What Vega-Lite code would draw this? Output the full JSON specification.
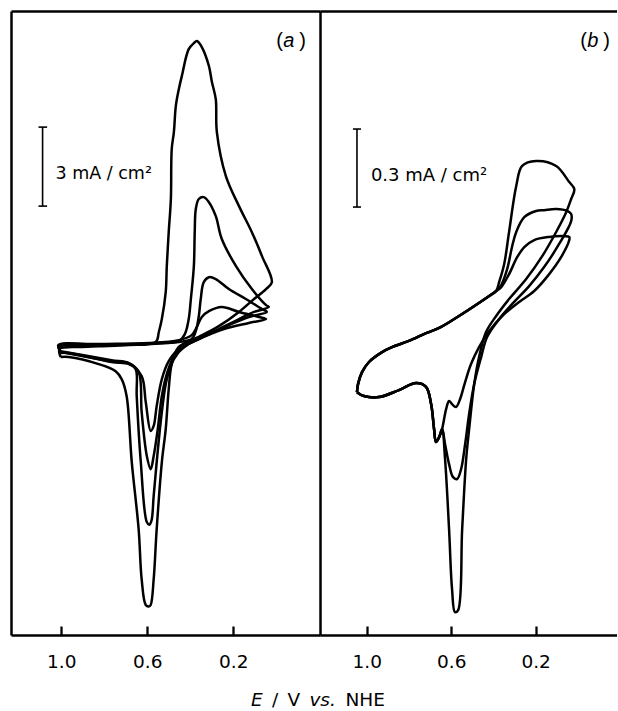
{
  "$schema": "https://vega.github.io/schema/vega-lite/v6.json",
  "padding": {"left": 11, "top": 11, "right": 0, "bottom": 0},
  "bounds": "flush",
  "spacing": 0,
  "config": {
    "view": {"stroke": null},
    "font": "DejaVu Sans",
    "axis": {"domainColor": "black", "tickColor": "black", "labelColor": "black", "grid": false, "title": null}
  },
  "datasets": {
    "one": [{}],
    "a": [
      {"c":1,"k":1,"E":1.003,"j":-0.49},{"c":1,"k":2,"E":0.966,"j":-0.49},{"c":1,"k":3,"E":0.826,"j":-0.76},{"c":1,"k":4,"E":0.747,"j":-1.03},{"c":1,"k":5,"E":0.719,"j":-1.33},{"c":1,"k":6,"E":0.696,"j":-1.97},{"c":1,"k":7,"E":0.672,"j":-4.48},{"c":1,"k":8,"E":0.640,"j":-7.03},{"c":1,"k":9,"E":0.626,"j":-8.93},{"c":1,"k":10,"E":0.607,"j":-9.91},{"c":1,"k":11,"E":0.593,"j":-9.97},{"c":1,"k":12,"E":0.584,"j":-9.91},{"c":1,"k":13,"E":0.570,"j":-8.93},{"c":1,"k":14,"E":0.556,"j":-7.03},{"c":1,"k":15,"E":0.532,"j":-4.48},{"c":1,"k":16,"E":0.514,"j":-3.23},{"c":1,"k":17,"E":0.500,"j":-1.71},{"c":1,"k":18,"E":0.486,"j":-0.76},{"c":1,"k":19,"E":0.453,"j":-0.11},{"c":1,"k":20,"E":0.360,"j":0.27},{"c":1,"k":21,"E":0.267,"j":0.68},{"c":1,"k":22,"E":0.173,"j":1.22},{"c":1,"k":23,"E":0.103,"j":1.71},{"c":1,"k":24,"E":0.047,"j":2.09},{"c":1,"k":25,"E":0.020,"j":2.35},
      {"c":1,"k":26,"E":0.066,"j":3.34},{"c":1,"k":27,"E":0.113,"j":4.25},{"c":1,"k":28,"E":0.173,"j":5.24},{"c":1,"k":29,"E":0.234,"j":6.38},{"c":1,"k":30,"E":0.276,"j":8.05},{"c":1,"k":31,"E":0.281,"j":9.30},{"c":1,"k":32,"E":0.299,"j":9.95},{"c":1,"k":33,"E":0.313,"j":10.56},{"c":1,"k":34,"E":0.346,"j":11.28},{"c":1,"k":35,"E":0.369,"j":11.51},{"c":1,"k":36,"E":0.383,"j":11.43},{"c":1,"k":37,"E":0.407,"j":11.20},{"c":1,"k":38,"E":0.439,"j":10.18},{"c":1,"k":39,"E":0.453,"j":9.68},{"c":1,"k":40,"E":0.467,"j":9.04},{"c":1,"k":41,"E":0.476,"j":8.05},{"c":1,"k":42,"E":0.486,"j":7.41},{"c":1,"k":43,"E":0.490,"j":5.51},{"c":1,"k":44,"E":0.500,"j":4.25},{"c":1,"k":45,"E":0.509,"j":2.96},{"c":1,"k":46,"E":0.514,"j":1.97},{"c":1,"k":47,"E":0.532,"j":0.95},{"c":1,"k":48,"E":0.546,"j":0.46},{"c":1,"k":49,"E":0.560,"j":0.08},{"c":1,"k":50,"E":0.686,"j":-0.04},{"c":1,"k":51,"E":0.826,"j":-0.08},{"c":1,"k":52,"E":0.919,"j":-0.11},{"c":1,"k":53,"E":1.008,"j":-0.19},{"c":1,"k":54,"E":1.003,"j":-0.49},

      {"c":2,"k":1,"E":1.003,"j":-0.34},{"c":2,"k":2,"E":0.966,"j":-0.34},{"c":2,"k":3,"E":0.766,"j":-0.68},{"c":2,"k":4,"E":0.686,"j":-0.76},{"c":2,"k":5,"E":0.654,"j":-0.95},{"c":2,"k":6,"E":0.649,"j":-1.97},{"c":2,"k":7,"E":0.630,"j":-4.48},{"c":2,"k":8,"E":0.602,"j":-6.76},{"c":2,"k":9,"E":0.590,"j":-6.86},{"c":2,"k":10,"E":0.580,"j":-6.70},{"c":2,"k":11,"E":0.570,"j":-5.77},{"c":2,"k":12,"E":0.556,"j":-4.48},{"c":2,"k":13,"E":0.532,"j":-2.58},{"c":2,"k":14,"E":0.509,"j":-1.33},{"c":2,"k":15,"E":0.476,"j":-0.57},{"c":2,"k":16,"E":0.430,"j":-0.11},{"c":2,"k":17,"E":0.360,"j":0.19},{"c":2,"k":18,"E":0.267,"j":0.57},{"c":2,"k":19,"E":0.173,"j":0.95},{"c":2,"k":20,"E":0.103,"j":1.22},{"c":2,"k":21,"E":0.034,"j":1.41},
      {"c":2,"k":22,"E":0.047,"j":1.48},{"c":2,"k":23,"E":0.113,"j":2.09},{"c":2,"k":24,"E":0.187,"j":2.96},{"c":2,"k":25,"E":0.253,"j":3.99},{"c":2,"k":26,"E":0.281,"j":4.86},{"c":2,"k":27,"E":0.313,"j":5.39},{"c":2,"k":28,"E":0.337,"j":5.58},{"c":2,"k":29,"E":0.360,"j":5.51},{"c":2,"k":30,"E":0.374,"j":5.13},{"c":2,"k":31,"E":0.379,"j":4.25},{"c":2,"k":32,"E":0.383,"j":2.96},{"c":2,"k":33,"E":0.397,"j":1.71},{"c":2,"k":34,"E":0.407,"j":0.95},{"c":2,"k":35,"E":0.425,"j":0.38},{"c":2,"k":36,"E":0.453,"j":0.11},{"c":2,"k":37,"E":0.546,"j":0.04},{"c":2,"k":38,"E":0.686,"j":0.0},{"c":2,"k":39,"E":0.826,"j":-0.04},{"c":2,"k":40,"E":1.010,"j":-0.11},{"c":2,"k":41,"E":1.003,"j":-0.34},

      {"c":3,"k":1,"E":1.003,"j":-0.30},{"c":3,"k":2,"E":0.766,"j":-0.65},{"c":3,"k":3,"E":0.686,"j":-0.72},{"c":3,"k":4,"E":0.640,"j":-1.06},{"c":3,"k":5,"E":0.626,"j":-2.58},{"c":3,"k":6,"E":0.602,"j":-4.25},{"c":3,"k":7,"E":0.584,"j":-4.75},{"c":3,"k":8,"E":0.570,"j":-4.25},{"c":3,"k":9,"E":0.551,"j":-3.23},{"c":3,"k":10,"E":0.532,"j":-1.97},{"c":3,"k":11,"E":0.509,"j":-1.14},{"c":3,"k":12,"E":0.476,"j":-0.49},{"c":3,"k":13,"E":0.407,"j":0.0},{"c":3,"k":14,"E":0.313,"j":0.38},{"c":3,"k":15,"E":0.220,"j":0.72},{"c":3,"k":16,"E":0.127,"j":1.03},{"c":3,"k":17,"E":0.043,"j":1.22},
      {"c":3,"k":18,"E":0.066,"j":1.33},{"c":3,"k":19,"E":0.141,"j":1.71},{"c":3,"k":20,"E":0.220,"j":2.09},{"c":3,"k":21,"E":0.281,"j":2.47},{"c":3,"k":22,"E":0.313,"j":2.54},{"c":3,"k":23,"E":0.337,"j":2.35},{"c":3,"k":24,"E":0.351,"j":1.71},{"c":3,"k":25,"E":0.360,"j":1.06},{"c":3,"k":26,"E":0.374,"j":0.49},{"c":3,"k":27,"E":0.393,"j":0.19},{"c":3,"k":28,"E":0.453,"j":0.08},{"c":3,"k":29,"E":0.593,"j":0.0},{"c":3,"k":30,"E":0.826,"j":-0.04},{"c":3,"k":31,"E":1.012,"j":-0.08},{"c":3,"k":32,"E":1.003,"j":-0.30},

      {"c":4,"k":1,"E":1.003,"j":-0.27},{"c":4,"k":2,"E":0.766,"j":-0.61},{"c":4,"k":3,"E":0.686,"j":-0.72},{"c":4,"k":4,"E":0.626,"j":-1.22},{"c":4,"k":5,"E":0.607,"j":-2.20},{"c":4,"k":6,"E":0.584,"j":-3.30},{"c":4,"k":7,"E":0.570,"j":-3.11},{"c":4,"k":8,"E":0.556,"j":-2.35},{"c":4,"k":9,"E":0.532,"j":-1.33},{"c":4,"k":10,"E":0.500,"j":-0.65},{"c":4,"k":11,"E":0.453,"j":-0.19},{"c":4,"k":12,"E":0.360,"j":0.19},{"c":4,"k":13,"E":0.243,"j":0.57},{"c":4,"k":14,"E":0.127,"j":0.80},{"c":4,"k":15,"E":0.047,"j":0.95},
      {"c":4,"k":16,"E":0.080,"j":1.03},{"c":4,"k":17,"E":0.173,"j":1.22},{"c":4,"k":18,"E":0.253,"j":1.41},{"c":4,"k":19,"E":0.313,"j":1.25},{"c":4,"k":20,"E":0.346,"j":1.03},{"c":4,"k":21,"E":0.369,"j":0.65},{"c":4,"k":22,"E":0.393,"j":0.34},{"c":4,"k":23,"E":0.453,"j":0.15},{"c":4,"k":24,"E":0.593,"j":0.04},{"c":4,"k":25,"E":0.826,"j":0.0},{"c":4,"k":26,"E":1.014,"j":-0.04},{"c":4,"k":27,"E":1.003,"j":-0.27}
    ],
    "b": [
      {"c":1,"k":1,"E":1.046,"j":-0.185},{"c":1,"k":2,"E":1.013,"j":-0.200},{"c":1,"k":3,"E":0.942,"j":-0.204},{"c":1,"k":4,"E":0.847,"j":-0.177},{"c":1,"k":5,"E":0.766,"j":-0.150},{"c":1,"k":6,"E":0.719,"j":-0.165},{"c":1,"k":7,"E":0.695,"j":-0.231},{"c":1,"k":8,"E":0.681,"j":-0.327},{"c":1,"k":9,"E":0.672,"j":-0.377},{"c":1,"k":10,"E":0.657,"j":-0.358},{"c":1,"k":11,"E":0.643,"j":-0.327},
      {"c":1,"k":12,"E":0.629,"j":-0.442},{"c":1,"k":13,"E":0.610,"j":-0.712},{"c":1,"k":14,"E":0.596,"j":-0.942},{"c":1,"k":15,"E":0.582,"j":-1.031},{"c":1,"k":16,"E":0.567,"j":-1.023},{"c":1,"k":17,"E":0.548,"j":-0.712},{"c":1,"k":18,"E":0.529,"j":-0.442},{"c":1,"k":19,"E":0.515,"j":-0.327},{"c":1,"k":20,"E":0.491,"j":-0.154},{"c":1,"k":21,"E":0.468,"j":-0.050},{"c":1,"k":22,"E":0.435,"j":0.046},{"c":1,"k":23,"E":0.387,"j":0.108},{"c":1,"k":24,"E":0.326,"j":0.173},{"c":1,"k":25,"E":0.245,"j":0.250},{"c":1,"k":26,"E":0.169,"j":0.338},{"c":1,"k":27,"E":0.103,"j":0.431},{"c":1,"k":28,"E":0.055,"j":0.508},{"c":1,"k":29,"E":0.032,"j":0.558},{"c":1,"k":30,"E":0.017,"j":0.596},
      {"c":1,"k":31,"E":0.041,"j":0.623},{"c":1,"k":32,"E":0.103,"j":0.685},{"c":1,"k":33,"E":0.198,"j":0.704},{"c":1,"k":34,"E":0.264,"j":0.685},{"c":1,"k":35,"E":0.292,"j":0.608},{"c":1,"k":36,"E":0.326,"j":0.431},{"c":1,"k":37,"E":0.349,"j":0.308},{"c":1,"k":38,"E":0.373,"j":0.238},
      {"c":1,"k":39,"E":0.387,"j":0.204},{"c":1,"k":40,"E":0.420,"j":0.185},{"c":1,"k":41,"E":0.563,"j":0.108},{"c":1,"k":42,"E":0.657,"j":0.062},{"c":1,"k":43,"E":0.719,"j":0.042},{"c":1,"k":44,"E":0.800,"j":0.012},{"c":1,"k":45,"E":0.880,"j":-0.012},{"c":1,"k":46,"E":0.927,"j":-0.031},{"c":1,"k":47,"E":0.989,"j":-0.069},{"c":1,"k":48,"E":1.022,"j":-0.108},{"c":1,"k":49,"E":1.041,"j":-0.154},{"c":1,"k":50,"E":1.046,"j":-0.185},

      {"c":2,"k":1,"E":1.046,"j":-0.185},{"c":2,"k":2,"E":1.013,"j":-0.200},{"c":2,"k":3,"E":0.942,"j":-0.204},{"c":2,"k":4,"E":0.847,"j":-0.177},{"c":2,"k":5,"E":0.766,"j":-0.150},{"c":2,"k":6,"E":0.719,"j":-0.165},{"c":2,"k":7,"E":0.695,"j":-0.231},{"c":2,"k":8,"E":0.681,"j":-0.327},{"c":2,"k":9,"E":0.672,"j":-0.377},{"c":2,"k":10,"E":0.657,"j":-0.358},{"c":2,"k":11,"E":0.643,"j":-0.327},
      {"c":2,"k":12,"E":0.629,"j":-0.385},{"c":2,"k":13,"E":0.610,"j":-0.462},{"c":2,"k":14,"E":0.591,"j":-0.512},{"c":2,"k":15,"E":0.572,"j":-0.519},{"c":2,"k":16,"E":0.553,"j":-0.481},{"c":2,"k":17,"E":0.534,"j":-0.385},{"c":2,"k":18,"E":0.515,"j":-0.269},{"c":2,"k":19,"E":0.491,"j":-0.154},{"c":2,"k":20,"E":0.458,"j":-0.050},{"c":2,"k":21,"E":0.430,"j":0.027},{"c":2,"k":22,"E":0.373,"j":0.096},{"c":2,"k":23,"E":0.302,"j":0.162},{"c":2,"k":24,"E":0.231,"j":0.223},{"c":2,"k":25,"E":0.160,"j":0.296},{"c":2,"k":26,"E":0.089,"j":0.385},{"c":2,"k":27,"E":0.032,"j":0.473},
      {"c":2,"k":28,"E":0.032,"j":0.500},{"c":2,"k":29,"E":0.051,"j":0.512},{"c":2,"k":30,"E":0.103,"j":0.519},{"c":2,"k":31,"E":0.160,"j":0.515},{"c":2,"k":32,"E":0.198,"j":0.512},{"c":2,"k":33,"E":0.254,"j":0.488},{"c":2,"k":34,"E":0.292,"j":0.431},{"c":2,"k":35,"E":0.311,"j":0.377},{"c":2,"k":36,"E":0.335,"j":0.288},{"c":2,"k":37,"E":0.363,"j":0.227},
      {"c":2,"k":38,"E":0.387,"j":0.204},{"c":2,"k":39,"E":0.420,"j":0.185},{"c":2,"k":40,"E":0.563,"j":0.108},{"c":2,"k":41,"E":0.657,"j":0.062},{"c":2,"k":42,"E":0.719,"j":0.042},{"c":2,"k":43,"E":0.800,"j":0.012},{"c":2,"k":44,"E":0.880,"j":-0.012},{"c":2,"k":45,"E":0.927,"j":-0.031},{"c":2,"k":46,"E":0.989,"j":-0.069},{"c":2,"k":47,"E":1.022,"j":-0.108},{"c":2,"k":48,"E":1.041,"j":-0.154},{"c":2,"k":49,"E":1.046,"j":-0.185},

      {"c":3,"k":1,"E":1.046,"j":-0.185},{"c":3,"k":2,"E":1.013,"j":-0.200},{"c":3,"k":3,"E":0.942,"j":-0.204},{"c":3,"k":4,"E":0.847,"j":-0.177},{"c":3,"k":5,"E":0.766,"j":-0.150},{"c":3,"k":6,"E":0.719,"j":-0.165},{"c":3,"k":7,"E":0.695,"j":-0.231},{"c":3,"k":8,"E":0.681,"j":-0.327},{"c":3,"k":9,"E":0.672,"j":-0.377},{"c":3,"k":10,"E":0.657,"j":-0.358},{"c":3,"k":11,"E":0.643,"j":-0.327},
      {"c":3,"k":12,"E":0.624,"j":-0.250},{"c":3,"k":13,"E":0.610,"j":-0.219},{"c":3,"k":14,"E":0.596,"j":-0.231},{"c":3,"k":15,"E":0.577,"j":-0.242},{"c":3,"k":16,"E":0.558,"j":-0.212},{"c":3,"k":17,"E":0.534,"j":-0.146},{"c":3,"k":18,"E":0.506,"j":-0.077},{"c":3,"k":19,"E":0.468,"j":-0.012},{"c":3,"k":20,"E":0.420,"j":0.050},{"c":3,"k":21,"E":0.349,"j":0.115},{"c":3,"k":22,"E":0.278,"j":0.162},{"c":3,"k":23,"E":0.207,"j":0.204},{"c":3,"k":24,"E":0.136,"j":0.269},{"c":3,"k":25,"E":0.079,"j":0.335},{"c":3,"k":26,"E":0.041,"j":0.400},
      {"c":3,"k":27,"E":0.041,"j":0.412},{"c":3,"k":28,"E":0.065,"j":0.415},{"c":3,"k":29,"E":0.136,"j":0.412},{"c":3,"k":30,"E":0.207,"j":0.400},{"c":3,"k":31,"E":0.254,"j":0.373},{"c":3,"k":32,"E":0.287,"j":0.335},{"c":3,"k":33,"E":0.326,"j":0.269},{"c":3,"k":34,"E":0.363,"j":0.219},
      {"c":3,"k":35,"E":0.387,"j":0.204},{"c":3,"k":36,"E":0.420,"j":0.185},{"c":3,"k":37,"E":0.563,"j":0.108},{"c":3,"k":38,"E":0.657,"j":0.062},{"c":3,"k":39,"E":0.719,"j":0.042},{"c":3,"k":40,"E":0.800,"j":0.012},{"c":3,"k":41,"E":0.880,"j":-0.012},{"c":3,"k":42,"E":0.927,"j":-0.031},{"c":3,"k":43,"E":0.989,"j":-0.069},{"c":3,"k":44,"E":1.022,"j":-0.108},{"c":3,"k":45,"E":1.041,"j":-0.154},{"c":3,"k":46,"E":1.046,"j":-0.185}
    ]
  },
  "hconcat": [
    {
      "width": 309, "height": 624,
      "resolve": {"axis": {"x": "independent", "y": "independent"}},
      "layer": [
        {
          "data": {"name": "a"},
          "mark": {"type": "line", "interpolate": "catmull-rom", "stroke": "black", "strokeWidth": 2.5, "strokeJoin": "round"},
          "encoding": {
            "x": {"field": "E", "type": "quantitative", "scale": {"domain": [-0.204, 1.234], "reverse": true, "nice": false, "zero": false},
                  "axis": {"orient": "bottom", "values": [1.0, 0.6, 0.2], "format": ".1f", "ticks": false, "domainWidth": 2.5, "labelFontSize": 18.5, "labelPadding": 17, "labelFont": "DejaVu Sans"}},
            "y": {"field": "j", "type": "quantitative", "scale": {"domain": [-11.05, 12.65], "nice": false, "zero": false},
                  "axis": {"orient": "left", "labels": false, "ticks": false, "domain": true, "domainWidth": 2.5}},
            "detail": {"field": "c"},
            "order": {"field": "k", "type": "quantitative"}
          }
        },
        {
          "data": {"name": "one"},
          "mark": {"type": "rule", "opacity": 0},
          "encoding": {"x": {"datum": 0.6, "type": "quantitative",
            "axis": {"orient": "top", "offset": -624, "values": [1.0, 0.6, 0.2], "labels": false, "domain": false, "ticks": true, "tickSize": 9, "tickWidth": 2.3, "tickColor": "black"}}}
        },
        {
          "data": {"name": "one"},
          "mark": {"type": "rule", "stroke": "black", "strokeWidth": 1.6},
          "encoding": {"x": {"datum": 1.087, "type": "quantitative", "axis": null}, "y": {"datum": 8.24, "type": "quantitative", "axis": null}, "y2": {"datum": 5.24}}
        },
        {
          "data": {"name": "one"},
          "mark": {"type": "rule", "stroke": "black", "strokeWidth": 1.6},
          "encoding": {"x": {"datum": 1.106, "type": "quantitative", "axis": null}, "x2": {"datum": 1.066}, "y": {"datum": 8.24, "type": "quantitative", "axis": null}}
        },
        {
          "data": {"name": "one"},
          "mark": {"type": "rule", "stroke": "black", "strokeWidth": 1.6},
          "encoding": {"x": {"datum": 1.106, "type": "quantitative", "axis": null}, "x2": {"datum": 1.066}, "y": {"datum": 5.24, "type": "quantitative", "axis": null}}
        },
        {
          "data": {"name": "one"},
          "mark": {"type": "text", "text": "3 mA / cm²", "align": "left", "baseline": "alphabetic", "fontSize": 17.5, "font": "DejaVu Sans", "color": "black"},
          "encoding": {"x": {"datum": 1.027, "type": "quantitative", "axis": null}, "y": {"datum": 6.27, "type": "quantitative", "axis": null}}
        },
        {
          "data": {"name": "one"},
          "mark": {"type": "text", "text": "(", "align": "left", "baseline": "middle", "fontSize": 20, "font": "Liberation Sans", "color": "black"},
          "encoding": {"x": {"datum": 0.0, "type": "quantitative", "axis": {"orient": "top", "labels": false, "ticks": false, "domainWidth": 2.5}}, "y": {"datum": 11.51, "type": "quantitative", "axis": null}}
        },
        {
          "data": {"name": "one"},
          "mark": {"type": "text", "text": "a", "align": "left", "baseline": "middle", "fontSize": 20, "fontStyle": "italic", "font": "Liberation Sans", "color": "black", "dx": 7},
          "encoding": {"x": {"datum": 0.0, "type": "quantitative", "axis": null}, "y": {"datum": 11.51, "type": "quantitative", "axis": null}}
        },
        {
          "data": {"name": "one"},
          "mark": {"type": "text", "text": ")", "align": "left", "baseline": "middle", "fontSize": 20, "font": "Liberation Sans", "color": "black", "dx": 23},
          "encoding": {"x": {"datum": 0.0, "type": "quantitative", "axis": null}, "y": {"datum": 11.51, "type": "quantitative", "axis": null}}
        },
        {
          "data": {"name": "one"},
          "mark": {"type": "text", "text": "E", "align": "left", "baseline": "alphabetic", "fontSize": 18.5, "fontStyle": "italic", "font": "DejaVu Sans", "color": "black"},
          "encoding": {"x": {"datum": 0.1175, "type": "quantitative", "axis": null}, "y": {"datum": -13.75, "type": "quantitative", "axis": null}}
        },
        {
          "data": {"name": "one"},
          "mark": {"type": "text", "text": "/", "align": "left", "baseline": "alphabetic", "fontSize": 18.5, "font": "DejaVu Sans", "color": "black", "dx": 21},
          "encoding": {"x": {"datum": 0.1175, "type": "quantitative", "axis": null}, "y": {"datum": -13.75, "type": "quantitative", "axis": null}}
        },
        {
          "data": {"name": "one"},
          "mark": {"type": "text", "text": "V", "align": "left", "baseline": "alphabetic", "fontSize": 18.5, "font": "DejaVu Sans", "color": "black", "dx": 36.5},
          "encoding": {"x": {"datum": 0.1175, "type": "quantitative", "axis": null}, "y": {"datum": -13.75, "type": "quantitative", "axis": null}}
        },
        {
          "data": {"name": "one"},
          "mark": {"type": "text", "text": "vs.", "align": "left", "baseline": "alphabetic", "fontSize": 18.5, "fontStyle": "italic", "font": "DejaVu Sans", "color": "black", "dx": 58.5},
          "encoding": {"x": {"datum": 0.1175, "type": "quantitative", "axis": null}, "y": {"datum": -13.75, "type": "quantitative", "axis": null}}
        },
        {
          "data": {"name": "one"},
          "mark": {"type": "text", "text": "NHE", "align": "left", "baseline": "alphabetic", "fontSize": 18.5, "font": "DejaVu Sans", "color": "black", "dx": 94.5},
          "encoding": {"x": {"datum": 0.1175, "type": "quantitative", "axis": null}, "y": {"datum": -13.75, "type": "quantitative", "axis": null}}
        }
      ]
    },
    {
      "width": 297, "height": 624,
      "resolve": {"axis": {"x": "independent", "y": "independent"}},
      "layer": [
        {
          "data": {"name": "b"},
          "mark": {"type": "line", "interpolate": "catmull-rom", "stroke": "black", "strokeWidth": 2.5, "strokeJoin": "round"},
          "encoding": {
            "x": {"field": "E", "type": "quantitative", "scale": {"domain": [-0.185, 1.221], "reverse": true, "nice": false, "zero": false},
                  "axis": {"orient": "bottom", "values": [1.0, 0.6, 0.2], "format": ".1f", "ticks": false, "domainWidth": 2.5, "labelFontSize": 18.5, "labelPadding": 17, "labelFont": "DejaVu Sans"}},
            "y": {"field": "j", "type": "quantitative", "scale": {"domain": [-1.119, 1.281], "nice": false, "zero": false},
                  "axis": {"orient": "left", "labels": false, "ticks": false, "domain": true, "domainWidth": 2.5}},
            "detail": {"field": "c"},
            "order": {"field": "k", "type": "quantitative"}
          }
        },
        {
          "data": {"name": "one"},
          "mark": {"type": "rule", "opacity": 0},
          "encoding": {"x": {"datum": 0.6, "type": "quantitative",
            "axis": {"orient": "top", "offset": -624, "values": [1.0, 0.6, 0.2], "labels": false, "domain": false, "ticks": true, "tickSize": 9, "tickWidth": 2.3, "tickColor": "black"}}}
        },
        {
          "data": {"name": "one"},
          "mark": {"type": "rule", "stroke": "black", "strokeWidth": 1.6},
          "encoding": {"x": {"datum": 1.046, "type": "quantitative", "axis": null}, "y": {"datum": 0.827, "type": "quantitative", "axis": null}, "y2": {"datum": 0.527}}
        },
        {
          "data": {"name": "one"},
          "mark": {"type": "rule", "stroke": "black", "strokeWidth": 1.6},
          "encoding": {"x": {"datum": 1.065, "type": "quantitative", "axis": null}, "x2": {"datum": 1.027}, "y": {"datum": 0.827, "type": "quantitative", "axis": null}}
        },
        {
          "data": {"name": "one"},
          "mark": {"type": "rule", "stroke": "black", "strokeWidth": 1.6},
          "encoding": {"x": {"datum": 1.065, "type": "quantitative", "axis": null}, "x2": {"datum": 1.027}, "y": {"datum": 0.527, "type": "quantitative", "axis": null}}
        },
        {
          "data": {"name": "one"},
          "mark": {"type": "text", "text": "0.3 mA / cm²", "align": "left", "baseline": "alphabetic", "fontSize": 18, "font": "DejaVu Sans", "color": "black"},
          "encoding": {"x": {"datum": 0.980, "type": "quantitative", "axis": null}, "y": {"datum": 0.627, "type": "quantitative", "axis": null}}
        },
        {
          "data": {"name": "one"},
          "mark": {"type": "text", "text": "(", "align": "left", "baseline": "middle", "fontSize": 20, "font": "Liberation Sans", "color": "black"},
          "encoding": {"x": {"datum": -0.011, "type": "quantitative", "axis": {"orient": "top", "labels": false, "ticks": false, "domainWidth": 2.5}}, "y": {"datum": 1.165, "type": "quantitative", "axis": null}}
        },
        {
          "data": {"name": "one"},
          "mark": {"type": "text", "text": "b", "align": "left", "baseline": "middle", "fontSize": 20, "fontStyle": "italic", "font": "Liberation Sans", "color": "black", "dx": 7},
          "encoding": {"x": {"datum": -0.011, "type": "quantitative", "axis": null}, "y": {"datum": 1.165, "type": "quantitative", "axis": null}}
        },
        {
          "data": {"name": "one"},
          "mark": {"type": "text", "text": ")", "align": "left", "baseline": "middle", "fontSize": 20, "font": "Liberation Sans", "color": "black", "dx": 23},
          "encoding": {"x": {"datum": -0.011, "type": "quantitative", "axis": null}, "y": {"datum": 1.165, "type": "quantitative", "axis": null}}
        }
      ]
    }
  ]
}
